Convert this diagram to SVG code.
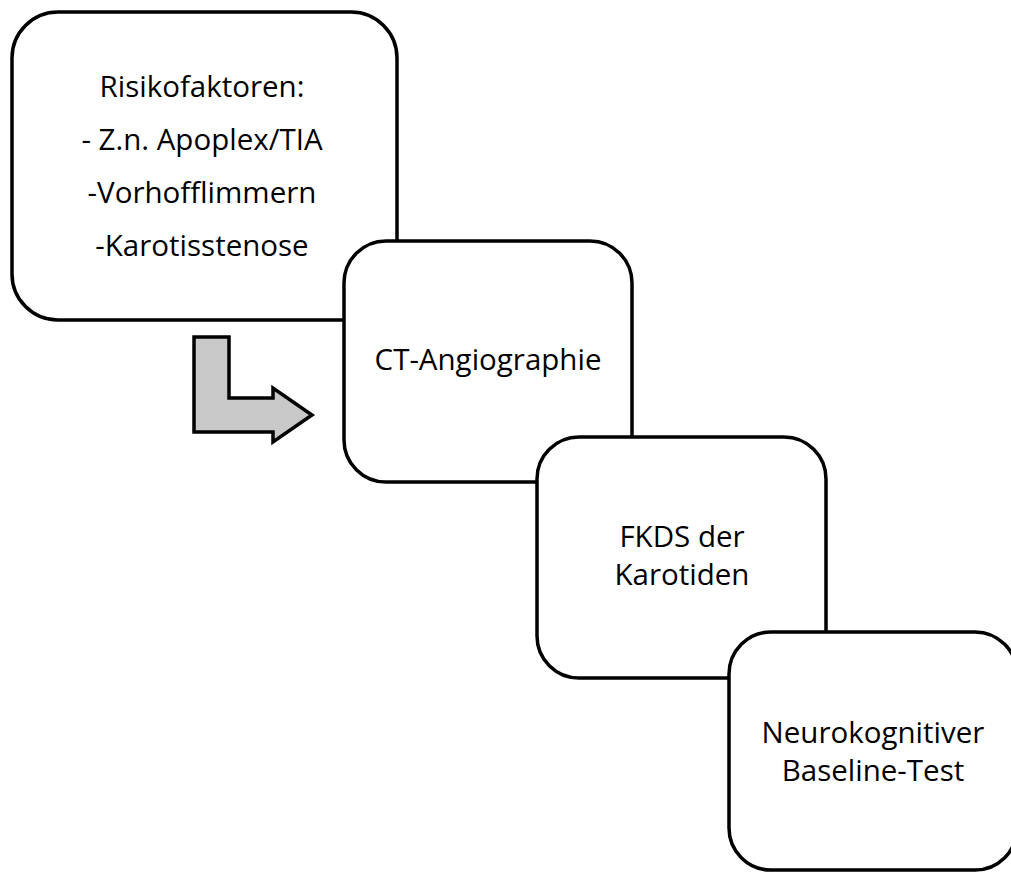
<svg xmlns="http://www.w3.org/2000/svg" width="1011" height="872" viewBox="0 0 1011 872">
<style>
.box{fill:#fff;stroke:#000;stroke-width:3.5}
.t{font-family:"Open Sans","Liberation Sans",sans-serif;font-size:29.5px;fill:#000;text-anchor:middle}
.arrow{fill:#c8c8c8;stroke:#000;stroke-width:3.5;stroke-linejoin:miter}
</style>
<rect width="1011" height="872" fill="#fff"/>
<g id="node1">
<rect class="box" x="12" y="12" width="385" height="308" rx="46"/>
<text class="t" x="202" y="97">Risikofaktoren:</text>
<text class="t" x="202" y="150">- Z.n. Apoplex/TIA</text>
<text class="t" x="202" y="203">-Vorhofflimmern</text>
<text class="t" x="202" y="256">-Karotisstenose</text>
</g>
<g id="node2">
<rect class="box" x="344" y="241" width="288" height="241" rx="42"/>
<text class="t" x="488" y="370">CT-Angiographie</text>
</g>
<g id="node3">
<rect class="box" x="537" y="437" width="289" height="241" rx="42"/>
<text class="t" x="682" y="547">FKDS der</text>
<text class="t" x="682" y="585">Karotiden</text>
</g>
<g id="node4">
<rect class="box" x="729" y="632" width="288" height="238" rx="42"/>
<text class="t" x="873" y="743">Neurokognitiver</text>
<text class="t" x="873" y="781">Baseline-Test</text>
</g>
<g id="connectors">
<path class="arrow" d="M194,337 L229,337 L229,398 L273,398 L273,388 L312,415 L273,442 L273,432 L194,432 Z"/>
</g>
</svg>
